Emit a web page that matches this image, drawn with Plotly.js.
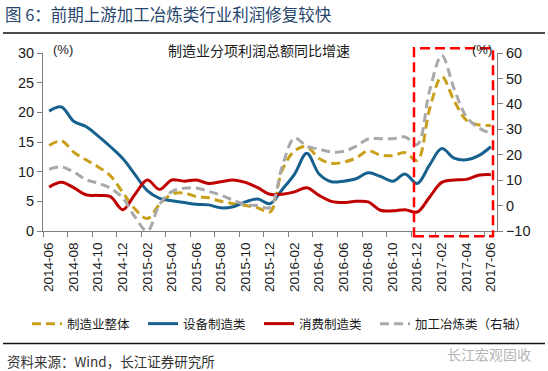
<!DOCTYPE html>
<html>
<head>
<meta charset="utf-8">
<script src="https://cdn.plot.ly/plotly-3.0.1.min.js"></script>
<style>html,body{margin:0;padding:0;background:#fff;}#chart{width:548px;height:371px;}</style>
</head>
<body>
<div id="chart"></div>
<script>
// ---- data ----
const months = ["2014-06","2014-07","2014-08","2014-09","2014-10","2014-11","2014-12",
  "2015-01","2015-02","2015-03","2015-04","2015-05","2015-06","2015-07","2015-08","2015-09","2015-10","2015-11","2015-12",
  "2016-01","2016-02","2016-03","2016-04","2016-05","2016-06","2016-07","2016-08","2016-09","2016-10","2016-11","2016-12",
  "2017-01","2017-02","2017-03","2017-04","2017-05","2017-06"];
const overall = [14.4,15.2,13.3,12.0,10.8,9.3,6.5,3.7,2.1,4.5,6.2,6.4,5.8,5.6,5.0,4.6,4.3,3.9,3.2,10.3,13.5,14.2,12.2,11.4,11.6,12.3,13.5,12.8,12.7,13.2,11.9,20.5,26.0,22.0,18.7,17.9,17.8];
const equipment = [20.2,20.9,18.5,17.6,16.0,14.2,12.2,9.5,6.8,5.5,5.1,4.8,4.5,4.4,3.9,4.1,4.9,5.4,4.6,7.0,9.6,13.1,9.6,8.3,8.4,8.8,9.8,9.2,8.4,9.6,8.0,11.1,13.9,12.3,12.0,12.7,14.2];
const consumer = [7.4,8.2,7.3,6.1,6.0,5.8,3.6,6.2,8.6,7.0,8.6,8.4,8.6,8.0,8.3,8.6,8.2,7.3,6.2,6.2,6.6,7.3,6.0,5.0,4.8,5.0,4.9,3.5,3.4,3.6,3.2,5.7,8.2,8.6,8.7,9.4,9.5];
const smelting = [14.3,15.2,13.2,10.2,8.8,6.8,3.0,-4.5,-10.0,0.5,5.5,6.8,6.9,5.6,4.1,2.1,0.4,0.0,-0.8,15.5,26.5,23.3,22.2,21.1,21.3,23.3,26.2,26.3,26.3,27.0,24.0,45.0,59.0,46.0,35.0,30.6,28.4];
const seriesNames = ["制造业整体","设备制造类","消费制造类","加工冶炼类（右轴）"];

// ---- build ----
const idx = months.map((m,i)=>i);
const labelIdx = idx.filter(i=>i%2===0);
const FONT = "Liberation Sans, Arial, Noto Sans CJK SC, sans-serif";
const CJK = "Noto Sans CJK SC, Liberation Sans, sans-serif";

function tr(y, name, color, dash, axis, leg){
  return {x: idx, y: y, name: name, type:'scatter', mode:'lines', yaxis: axis, legend: leg,
    line:{color:color, width:3, dash:dash, shape:'spline', smoothing:1}};
}
const data = [
  tr(overall, seriesNames[0], '#C9A01C', '9px,5px', 'y', 'legend'),
  tr(equipment, seriesNames[1], '#17618F', 'solid', 'y', 'legend2'),
  tr(consumer, seriesNames[2], '#C00000', 'solid', 'y', 'legend3'),
  tr(smelting, seriesNames[3], '#A9A9A9', '9px,5px', 'y2', 'legend4')
];

const axisCommon = {showgrid:false, zeroline:false, showline:true, linecolor:'#7f7f7f', linewidth:1,
  ticks:'outside', ticklen:5, tickcolor:'#7f7f7f', tickfont:{family:FONT, size:14.5, color:'#1a1a1a'}};

function leg(px){
  return {orientation:'h', xref:'container', yref:'container', x:px/548, xanchor:'left',
    y:1-324/371, yanchor:'middle', bgcolor:'rgba(0,0,0,0)',
    font:{family:CJK, size:12.5, color:'#1a1a1a'}};
}

const layout = {
  width:548, height:371,
  margin:{l:43, r:51, t:53, b:140, pad:0},
  paper_bgcolor:'#fff', plot_bgcolor:'#fff',
  font:{family:FONT, color:'#1a1a1a'},
  showlegend:true,
  title:{text:'图 6：前期上游加工冶炼类行业利润修复较快', x:5/548, xanchor:'left', xref:'container',
    y:1-15/371, yanchor:'middle', yref:'container', font:{family:CJK, size:16.5, color:'#26466D'}},
  xaxis:Object.assign({}, axisCommon, {range:[-0.5,36.5], tickvals:labelIdx.map(i=>i-0.5),
    ticktext:labelIdx.map(i=>months[i]), tickangle:-90, ticklabelshift:6, tickfont:{family:FONT,size:13.5,color:'#1a1a1a'}}),
  yaxis:Object.assign({}, axisCommon, {range:[0,30], dtick:5, tick0:0}),
  yaxis2:Object.assign({}, axisCommon, {range:[-10,60], dtick:10, tick0:-10, overlaying:'y', side:'right'}),
  legend:leg(27), legend2:leg(143), legend3:leg(259), legend4:leg(375),
  annotations:[
    {text:'制造业分项利润总额同比增速', xref:'paper', yref:'paper', x:(259-43)/454, y:(230.7-50)/177.7,
      showarrow:false, xanchor:'center', yanchor:'middle', font:{family:CJK, size:14, color:'#1a1a1a'}},
    {text:'(%)', xref:'paper', yref:'paper', x:(63-43)/454, y:(230.7-50)/177.7, showarrow:false,
      xanchor:'center', yanchor:'middle', font:{family:FONT, size:13, color:'#1a1a1a'}},
    {text:'(%)', xref:'paper', yref:'paper', x:(482-43)/454, y:(230.7-50)/177.7, showarrow:false,
      xanchor:'center', yanchor:'middle', font:{family:FONT, size:13, color:'#1a1a1a'}},
    {text:'资料来源：Wind，长江证券研究所', xref:'paper', yref:'paper', x:(6-43)/454, y:(230.7-360.5)/177.7,
      showarrow:false, xanchor:'left', yanchor:'middle', borderpad:0, font:{family:CJK, size:13.5, color:'#333'}},
    {text:'长江宏观固收', xref:'paper', yref:'paper', x:(533-43)/454, y:(230.7-353)/177.7,
      showarrow:false, xanchor:'right', yanchor:'middle', font:{family:CJK, size:14, color:'#b5b5b5'}}
  ],
  shapes:[
    {type:'line', xref:'paper', yref:'paper', x0:(3-43)/454, x1:(545-43)/454, y0:(230.7-33)/177.7, y1:(230.7-33)/177.7,
      line:{color:'#111', width:1.5}},
    {type:'line', xref:'paper', yref:'paper', x0:(3-43)/454, x1:(545-43)/454, y0:(230.7-343)/177.7, y1:(230.7-343)/177.7,
      line:{color:'#111', width:1.5}},
    {type:'rect', xref:'paper', yref:'paper', x0:(414-43)/454, x1:(493-43)/454, y0:(230.7-236)/177.7, y1:(230.7-48.3)/177.7,
      line:{color:'#FF0000', width:2.5, dash:'10px,5px'}, fillcolor:'rgba(0,0,0,0)', layer:'above'}
  ]
};

Plotly.newPlot('chart', data, layout, {staticPlot:true, displayModeBar:false});
</script>
</body>
</html>
